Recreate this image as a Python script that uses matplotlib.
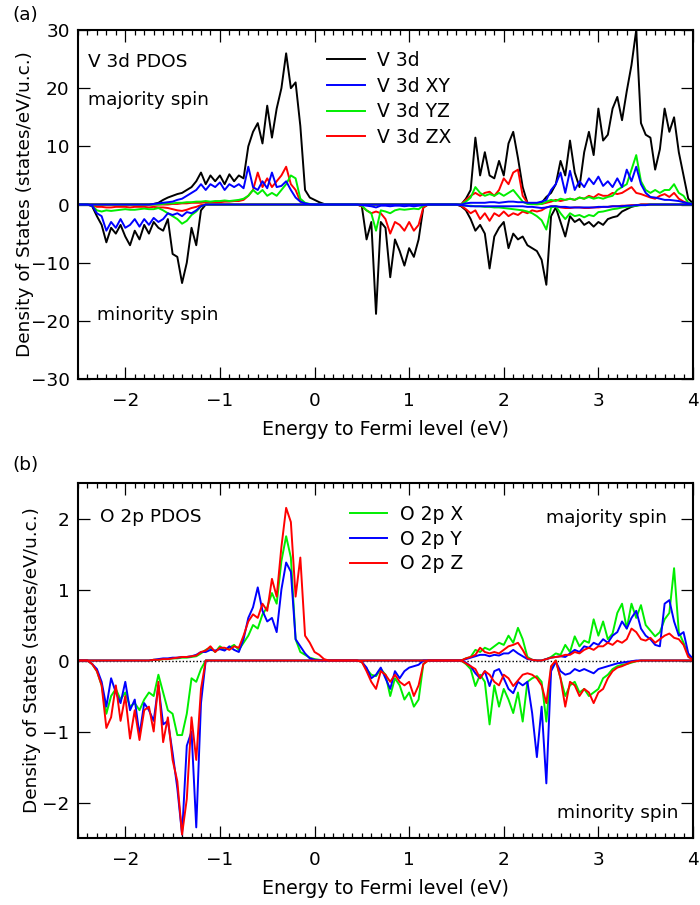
import numpy as np
import matplotlib
matplotlib.use('Agg')
import matplotlib.pyplot as plt
from matplotlib.ticker import MultipleLocator

plt.rcParams['font.family'] = ['DejaVu Sans']
plt.rcParams['font.size'] = 13

# energy grid (eV) in 0.05 eV steps: band A -2.5..0.15, gap, band B 0.5..1.2, gap, band C 1.55..4.0
energy = np.round(np.arange(-2.5, 4.0001, 0.05), 2)
gap = [0] * 6

def full(a, b, c):
    return np.array(a + gap + b + gap + c, dtype=float)

zeros_b = [0] * 15

# ---------------- (a) V 3d PDOS (states/eV/u.c.) ----------------
v3d_up = full(
    [0]*16 + [0.1, 0.3, 0.8, 1.2, 1.5, 1.8, 2.0, 2.5, 3.0, 4.0,
              5.5, 3.5, 5.0, 4.0, 5.0, 3.5, 5.2, 4.0, 5.0, 4.5,
              10.0, 12.5, 14.0, 10.5, 17.0, 11.5, 16.5, 20.0, 26.0, 20.0,
              21.0, 13.5, 2.5, 1.2, 0.8, 0.4, 0.1, 0],
    zeros_b,
    [0, 1.0, 2.5, 11.5, 5.0, 9.0, 5.0, 4.5, 7.5, 5.0,
     10.5, 12.5, 8.0, 3.0, 0.3, 0.1, 0.1, 0.3, 1.3, 2.0,
     3.5, 7.5, 5.0, 11.0, 5.5, 3.0, 9.0, 12.5, 8.5, 16.5,
     11.0, 12.0, 16.5, 18.5, 14.5, 19.5, 24.0, 30.0, 14.0, 12.0,
     11.5, 6.0, 9.5, 16.5, 12.5, 15.0, 9.0, 5.0, 1.0, 0.2])
v3d_dn = full(
    [0, 0, 0, -0.3, -2.0, -3.5, -6.5, -4.0, -5.0, -3.5,
     -5.5, -7.0, -4.5, -6.0, -3.5, -5.0, -3.0, -4.0, -4.5, -2.5,
     -8.5, -9.0, -13.5, -10.0, -4.0, -7.0, -1.0] + [0]*27,
    [-0.3, -6.0, -3.0, -18.8, -3.0, -4.0, -12.5, -6.0, -8.0, -10.5, -7.5, -9.0, -6.0, -0.5, 0],
    [-0.3, -1.0, -2.5, -4.5, -3.5, -5.0, -11.0, -5.5, -4.0, -3.0,
     -7.5, -5.0, -6.0, -5.5, -7.0, -7.5, -8.0, -9.5, -13.8, -2.0,
     -0.5, -3.0, -5.5, -2.0, -3.0, -2.5, -3.5, -3.0, -3.8, -3.0,
     -3.5, -2.5, -2.2, -2.0, -1.2, -0.8, -0.4, -0.2] + [0]*12)

xy_up = full(
    [0]*16 + [0.1, 0.2, 0.3, 0.4, 0.5, 0.8, 1.0, 1.5, 2.0, 2.5,
              3.5, 2.5, 3.5, 3.0, 3.8, 2.5, 3.5, 3.0, 3.5, 2.8,
              6.5, 3.0, 2.5, 4.0, 2.8, 5.5, 3.0, 3.2, 4.0, 2.5,
              1.2, 0.5, 0.2, 0.05, 0, 0, 0, 0],
    zeros_b,
    [0, 0.2, 0.3, 0.3, 0.3, 0.3, 0.4, 0.4, 0.3, 0.4,
     0.5, 0.5, 0.4, 0.4, 0.3, 0.3, 0.3, 0.5, 0.8, 2.5,
     3.5, 5.5, 2.0, 5.8, 2.5, 4.0, 3.0, 4.5, 3.5, 4.8,
     3.2, 4.0, 3.0, 4.5, 3.0, 6.0, 4.0, 6.5, 3.5, 2.0,
     1.3, 1.2, 1.0, 0.8, 0.8, 0.7, 0.6, 0.4, 0.2, 0.1])
xy_dn = full(
    [0, 0, 0, -0.2, -1.5, -2.0, -4.5, -3.0, -4.0, -2.5,
     -4.0, -3.5, -2.5, -3.8, -2.5, -3.5, -2.3, -3.0, -2.5, -1.5,
     -1.8, -1.5, -2.0, -1.3, -1.5, -1.0, -0.3] + [0]*27,
    [-0.1, -0.2, -0.3, -0.5, -0.2, -0.2, -0.3, -0.2, -0.2, -0.3, -0.2, -0.3, -0.2, -0.1, 0],
    [-0.1, -0.2, -0.3, -0.3, -0.3, -0.3, -0.3, -0.3, -0.3, -0.3,
     -0.3, -0.3, -0.3, -0.3, -0.4, -0.4, -0.5, -0.6, -0.5, -0.3,
     -0.3, -0.4, -0.4, -0.5, -0.5, -0.5, -0.5, -0.5, -0.5, -0.4,
     -0.4, -0.4, -0.3, -0.3, -0.3, -0.2, -0.2, -0.1, -0.1, -0.1] + [0]*10)

yz_up = full(
    [0]*18 + [0.1, 0.2, 0.2, 0.3, 0.3, 0.4, 0.4, 0.5, 0.5, 0.6,
              0.5, 0.6, 0.6, 0.7, 0.6, 0.7, 0.8, 1.0, 1.5, 2.5,
              1.8, 2.5, 1.5, 2.0, 1.5, 2.5, 3.5, 5.0, 4.5, 1.0,
              0.3, 0.1, 0, 0, 0, 0],
    zeros_b,
    [0, 0.5, 1.2, 3.0, 2.0, 1.5, 1.8, 1.5, 2.0, 1.5,
     2.0, 2.5, 1.5, 0.5, 0.1, 0.05, 0.05, 0.1, 0.5, 0.8,
     0.6, 1.0, 0.8, 1.0, 0.8, 1.2, 1.0, 1.3, 1.0, 1.2,
     1.0, 1.3, 1.5, 2.5, 3.0, 3.5, 6.0, 8.5, 4.0, 2.5,
     2.0, 2.5, 2.0, 2.5, 2.5, 3.5, 2.0, 1.5, 0.3, 0.1])
yz_dn = full(
    [0, 0, 0, -0.2, -1.0, -1.2, -1.0, -1.1, -1.0, -0.9,
     -0.8, -0.9, -0.9, -0.8, -0.7, -0.8, -0.8, -0.6, -1.0, -1.5,
     -2.0, -2.5, -3.3, -2.8, -1.8, -1.2, -0.3] + [0]*27,
    [-0.2, -1.0, -1.5, -4.5, -1.0, -1.2, -1.5, -1.0, -0.8, -0.9, -0.8, -0.7, -0.8, -0.2, 0],
    [-0.1, -0.2, -0.2, -0.3, -0.3, -0.4, -0.4, -0.5, -0.5, -0.6,
     -0.7, -0.8, -0.9, -1.0, -1.2, -1.5, -2.0, -2.7, -4.3, -0.5,
     -0.3, -1.5, -2.5, -1.5, -2.0, -1.8, -2.2, -1.8, -2.0, -1.3,
     -1.2, -1.0, -0.8, -0.7, -0.5, -0.4, -0.3, -0.2, -0.1, -0.1] + [0]*10)

zx_up = full(
    [0]*20 + [0.1, 0.1, 0.2, 0.2, 0.3, 0.3, 0.3, 0.4, 0.4, 0.4,
              0.4, 0.5, 0.5, 0.6, 0.6, 0.8, 1.5, 2.5, 5.5, 3.0,
              4.5, 3.0, 4.0, 5.0, 6.5, 3.5, 2.5, 0.5, 0.1, 0,
              0, 0, 0, 0],
    zeros_b,
    [0, 0.8, 1.5, 2.0, 1.5, 2.0, 2.2, 1.5, 2.5, 4.5,
     3.5, 5.5, 6.0, 1.5, 0.3, 0.1, 0.05, 0.1, 0.3, 0.5,
     0.8, 0.6, 0.8, 1.0, 0.8, 1.2, 1.0, 1.5, 1.2, 1.8,
     1.5, 1.5, 2.0, 1.8, 2.0, 2.5, 3.0, 2.0, 1.8, 1.5,
     1.2, 1.0, 1.5, 1.8, 1.3, 2.0, 1.0, 0.5, 0.2, 0])
zx_dn = full(
    [0, 0, 0, -0.1, -0.4, -0.4, -0.5, -0.5, -0.4, -0.4,
     -0.4, -0.5, -0.4, -0.4, -0.4, -0.5, -0.4, -0.5, -0.5, -0.6,
     -0.8, -1.0, -1.1, -0.9, -0.6, -0.4, -0.1] + [0]*27,
    [-0.3, -1.0, -1.5, -1.2, -1.5, -2.5, -5.0, -3.0, -3.5, -4.5, -3.0, -4.5, -3.5, -0.5, 0],
    [-0.2, -0.8, -1.5, -1.0, -2.5, -1.5, -2.8, -1.5, -2.0, -1.2,
     -2.0, -1.5, -1.8, -1.2, -1.5, -1.0, -1.2, -1.0, -0.5, -0.3,
     -0.3, -0.5, -0.6, -0.6, -0.5, -0.5, -0.6, -0.6, -0.5, -0.5,
     -0.4, -0.4, -0.3, -0.3, -0.2, -0.2, -0.1, -0.1] + [0]*12)

# ---------------- (b) O 2p PDOS ----------------
o2px_up = full(
    [0]*16 + [0.01, 0.01, 0.02, 0.02, 0.03, 0.03, 0.04, 0.04, 0.05, 0.06,
              0.10, 0.15, 0.18, 0.12, 0.20, 0.15, 0.18, 0.22, 0.15, 0.25,
              0.35, 0.50, 0.45, 0.65, 0.75, 0.95, 0.80, 1.40, 1.75, 1.45,
              0.30, 0.12, 0.08, 0.04, 0.02, 0.01, 0, 0],
    zeros_b,
    [0, 0.03, 0.05, 0.15, 0.12, 0.18, 0.15, 0.20, 0.25, 0.22,
     0.35, 0.25, 0.46, 0.30, 0.05, 0.01, 0, 0, 0.02, 0.05,
     0.10, 0.08, 0.22, 0.12, 0.34, 0.20, 0.28, 0.25, 0.58, 0.35,
     0.55, 0.30, 0.38, 0.67, 0.80, 0.45, 0.80, 0.60, 0.78, 0.50,
     0.42, 0.34, 0.40, 0.58, 0.67, 1.30, 0.40, 0.25, 0.08, 0.02])
o2px_dn = full(
    [0, 0, 0, -0.05, -0.15, -0.35, -0.75, -0.50, -0.40, -0.55,
     -0.45, -0.65, -0.60, -0.70, -0.55, -0.45, -0.50, -0.20, -0.45, -0.70,
     -0.75, -1.05, -1.05, -0.75, -0.25, -0.30, -0.12] + [0]*27,
    [-0.02, -0.12, -0.20, -0.22, -0.12, -0.20, -0.50, -0.25, -0.35, -0.55, -0.45, -0.65, -0.55, -0.05, 0],
    [0, -0.05, -0.12, -0.36, -0.20, -0.30, -0.90, -0.35, -0.65, -0.40,
     -0.55, -0.74, -0.45, -0.86, -0.30, -0.25, -0.22, -0.30, -0.86, -0.10,
     0, -0.25, -0.50, -0.35, -0.30, -0.45, -0.40, -0.50, -0.45, -0.40,
     -0.25, -0.20, -0.12, -0.08, -0.06, -0.05, -0.03, -0.01] + [0]*12)

o2py_up = full(
    [0]*16 + [0.01, 0.02, 0.03, 0.03, 0.04, 0.04, 0.05, 0.05, 0.06, 0.08,
              0.12, 0.12, 0.15, 0.14, 0.16, 0.14, 0.20, 0.15, 0.12, 0.30,
              0.60, 0.75, 1.03, 0.70, 0.55, 0.60, 0.40, 1.00, 1.38, 1.25,
              0.30, 0.20, 0.10, 0.03, 0.01, 0, 0, 0],
    zeros_b,
    [0, 0.02, 0.04, 0.06, 0.08, 0.08, 0.06, 0.08, 0.07, 0.10,
     0.10, 0.15, 0.10, 0.06, 0.02, 0.01, 0, 0, 0.02, 0.04,
     0.05, 0.06, 0.05, 0.10, 0.15, 0.12, 0.20, 0.18, 0.25, 0.22,
     0.30, 0.25, 0.35, 0.40, 0.55, 0.45, 0.60, 0.70, 0.45, 0.35,
     0.30, 0.22, 0.20, 0.80, 0.85, 0.55, 0.35, 0.40, 0.10, 0.02])
o2py_dn = full(
    [0, 0, 0, -0.05, -0.12, -0.30, -0.65, -0.25, -0.45, -0.60,
     -0.30, -0.70, -0.55, -1.05, -0.60, -0.70, -0.85, -0.35, -0.90, -0.85,
     -1.30, -1.80, -2.45, -1.20, -1.00, -2.35, -0.60] + [0]*27,
    [-0.02, -0.10, -0.25, -0.20, -0.10, -0.25, -0.40, -0.15, -0.25, -0.15, -0.10, -0.08, -0.06, 0, 0],
    [0, -0.03, -0.08, -0.18, -0.25, -0.15, -0.36, -0.15, -0.12, -0.25,
     -0.40, -0.46, -0.30, -0.35, -0.30, -0.74, -1.36, -0.65, -1.73, -0.15,
     -0.02, -0.15, -0.20, -0.18, -0.12, -0.15, -0.12, -0.15, -0.18, -0.12,
     -0.10, -0.08, -0.06, -0.04, -0.03, -0.02, -0.01] + [0]*13)

o2pz_up = full(
    [0]*16 + [0.01, 0.01, 0.02, 0.02, 0.03, 0.04, 0.05, 0.05, 0.06, 0.07,
              0.12, 0.14, 0.20, 0.12, 0.18, 0.18, 0.15, 0.20, 0.18, 0.35,
              0.55, 0.65, 0.60, 0.80, 0.70, 1.15, 0.90, 1.60, 2.15, 1.95,
              0.90, 1.45, 0.35, 0.25, 0.12, 0.08, 0.02, 0],
    zeros_b,
    [0, 0.03, 0.05, 0.08, 0.18, 0.12, 0.10, 0.12, 0.10, 0.15,
     0.20, 0.22, 0.25, 0.15, 0.03, 0.01, 0, 0, 0.02, 0.04,
     0.05, 0.06, 0.08, 0.08, 0.12, 0.10, 0.15, 0.18, 0.15, 0.20,
     0.20, 0.25, 0.22, 0.28, 0.25, 0.30, 0.45, 0.40, 0.30, 0.28,
     0.32, 0.25, 0.30, 0.35, 0.38, 0.32, 0.30, 0.22, 0.05, 0.01])
o2pz_dn = full(
    [0, 0, 0, -0.05, -0.15, -0.35, -0.95, -0.80, -0.35, -0.85,
     -0.50, -1.10, -0.70, -1.12, -0.70, -0.65, -1.00, -0.30, -1.15, -0.80,
     -1.40, -1.70, -2.45, -1.95, -0.80, -1.40, -0.40] + [0]*27,
    [-0.02, -0.15, -0.30, -0.40, -0.15, -0.20, -0.30, -0.20, -0.30, -0.35, -0.30, -0.50, -0.35, -0.05, 0],
    [0, -0.04, -0.08, -0.12, -0.25, -0.15, -0.20, -0.30, -0.35, -0.20,
     -0.25, -0.36, -0.28, -0.20, -0.18, -0.20, -0.25, -0.35, -0.60, -0.08,
     0, -0.25, -0.65, -0.30, -0.35, -0.50, -0.40, -0.45, -0.60, -0.45,
     -0.40, -0.25, -0.15, -0.10, -0.08, -0.05, -0.02, -0.01] + [0]*12)

GREEN = '#00ee00'
LW = 1.4
FS = 13.3

fig = plt.figure(figsize=(7, 9.05), dpi=100)
ax1 = fig.add_axes([0.1114, 0.5812, 0.8786, 0.3856])
ax2 = fig.add_axes([0.1114, 0.0740, 0.8786, 0.3923])


def style(ax):
    ax.set_xlim(-2.5, 4.0)
    ax.xaxis.set_major_locator(MultipleLocator(1))
    ax.xaxis.set_minor_locator(MultipleLocator(0.1))
    ax.tick_params(which='both', direction='in', top=True, right=True, labelsize=FS, width=0.9)
    ax.tick_params(axis='x', pad=9)
    ax.tick_params(axis='y', pad=6)
    ax.tick_params(which='major', length=8.5)
    ax.tick_params(which='minor', length=3.5)
    ax.tick_params(axis='y', which='minor', left=False, right=False)
    for s in ax.spines.values():
        s.set_linewidth(1.5)
    ax.set_xlabel('Energy to Fermi level (eV)', fontsize=FS + 0.4, va='center')
    ax.set_ylabel('Density of States (states/eV/u.c.)', fontsize=FS, va='center')


# panel (a)
h_d, = ax1.plot(energy, v3d_up, color='black', lw=LW)
ax1.plot(energy, v3d_dn, color='black', lw=LW)
h_zx, = ax1.plot(energy, zx_up, color='red', lw=LW)
ax1.plot(energy, zx_dn, color='red', lw=LW)
h_yz, = ax1.plot(energy, yz_up, color=GREEN, lw=LW)
ax1.plot(energy, yz_dn, color=GREEN, lw=LW)
h_xy, = ax1.plot(energy, xy_up, color='blue', lw=LW)
ax1.plot(energy, xy_dn, color='blue', lw=LW)
style(ax1)
ax1.set_ylim(-30, 30)
ax1.yaxis.set_major_locator(MultipleLocator(10))
ax1.yaxis.set_label_coords(-0.086, 0.5)
ax1.xaxis.set_label_coords(0.5, -0.146)
ax1.legend([h_d, h_xy, h_yz, h_zx], ['V 3d', 'V 3d XY', 'V 3d YZ', 'V 3d ZX'],
           loc='upper left', bbox_to_anchor=(0.405, 0.94), frameon=False,
           handlelength=2.0, handletextpad=0.65, labelspacing=0.35,
           borderpad=0, borderaxespad=0, fontsize=13.5)
ax1.text(0.016, 0.908, 'V 3d PDOS', transform=ax1.transAxes, va='center', ha='left', fontsize=FS)
ax1.text(0.016, 0.799, 'majority spin', transform=ax1.transAxes, va='center', ha='left', fontsize=FS)
ax1.text(0.031, 0.183, 'minority spin', transform=ax1.transAxes, va='center', ha='left', fontsize=FS)

# panel (b)
ax2.axhline(0, color='black', lw=1.0, ls=(0, (1, 1.5)), zorder=1)
h_x, = ax2.plot(energy, o2px_up, color=GREEN, lw=LW)
ax2.plot(energy, o2px_dn, color=GREEN, lw=LW)
h_y, = ax2.plot(energy, o2py_up, color='blue', lw=LW)
ax2.plot(energy, o2py_dn, color='blue', lw=LW)
h_z, = ax2.plot(energy, o2pz_up, color='red', lw=LW)
ax2.plot(energy, o2pz_dn, color='red', lw=LW)
style(ax2)
ax2.set_ylim(-2.5, 2.5)
ax2.yaxis.set_major_locator(MultipleLocator(1))
ax2.yaxis.set_label_coords(-0.075, 0.5)
ax2.xaxis.set_label_coords(0.5, -0.141)
ax2.legend([h_x, h_y, h_z], ['O 2p X', 'O 2p Y', 'O 2p Z'],
           loc='upper left', bbox_to_anchor=(0.442, 0.938), frameon=False,
           handlelength=2.0, handletextpad=0.65, labelspacing=0.3,
           borderpad=0, borderaxespad=0, fontsize=13.5)
ax2.text(0.036, 0.904, 'O 2p PDOS', transform=ax2.transAxes, va='center', ha='left', fontsize=FS)
ax2.text(0.958, 0.901, 'majority spin', transform=ax2.transAxes, va='center', ha='right', fontsize=FS)
ax2.text(0.976, 0.070, 'minority spin', transform=ax2.transAxes, va='center', ha='right', fontsize=FS)

fig.text(0.017, 0.983, '(a)', va='center', ha='left', fontsize=FS)
fig.text(0.017, 0.486, '(b)', va='center', ha='left', fontsize=FS)

fig.savefig('out.png', dpi=100)
